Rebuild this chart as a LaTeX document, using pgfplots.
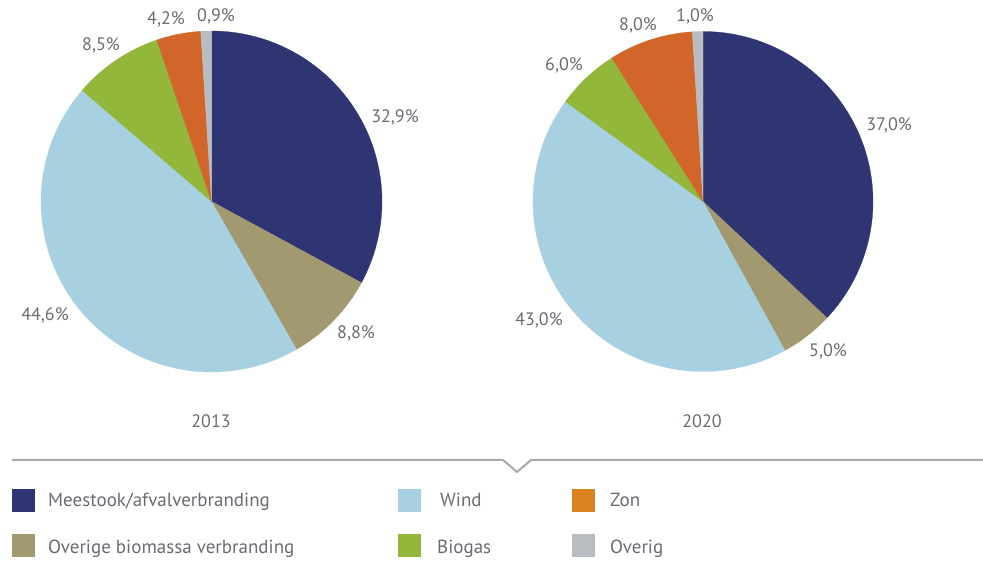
\documentclass[border=0pt]{standalone}
\usepackage{pgfplots}
\pgfplotsset{compat=1.18}
\usepackage{fontspec}
\setmainfont{PT Sans}
\definecolor{cNavy}{HTML}{2F3473}
\definecolor{cTan}{HTML}{A39970}
\definecolor{cWind}{HTML}{A7D0E1}
\definecolor{cGreen}{HTML}{93B73B}
\definecolor{cOrange}{HTML}{D2662A}
\definecolor{cOrangeL}{HTML}{D9821F}
\definecolor{cGray}{HTML}{B9BDC2}
\definecolor{cText}{HTML}{686C73}
\definecolor{cLine}{HTML}{A7AAAD}

\newcommand{\onewedge}[6]{%
  \edef\doit{\noexpand\addplot[fill=#6, draw=#6, line width=0.3pt, domain=#4:#5, samples=120, variable=\noexpand\t] ({#1+#3*sin(\noexpand\t)}, {#2+#3*cos(\noexpand\t)}) -- (axis cs:#1,#2) -- cycle;}%
  \doit}
% #1 cx, #2 cy, #3 radius, #4..#9 percentages
\newcommand{\pieplot}[9]{%
  \pgfmathsetmacro\sA{0}%
  \pgfmathsetmacro\sB{\sA+3.6*#4}%
  \pgfmathsetmacro\sC{\sB+3.6*#5}%
  \pgfmathsetmacro\sD{\sC+3.6*#6}%
  \pgfmathsetmacro\sE{\sD+3.6*#7}%
  \pgfmathsetmacro\sF{\sE+3.6*#8}%
  \onewedge{#1}{#2}{#3}{\sA}{\sB}{cNavy}%
  \onewedge{#1}{#2}{#3}{\sB}{\sC}{cTan}%
  \onewedge{#1}{#2}{#3}{\sC}{\sD}{cWind}%
  \onewedge{#1}{#2}{#3}{\sD}{\sE}{cGreen}%
  \onewedge{#1}{#2}{#3}{\sE}{\sF}{cOrange}%
  \onewedge{#1}{#2}{#3}{\sF}{360}{cGray}%
}

\begin{document}
\begin{tikzpicture}
\begin{axis}[
  hide axis, x=1pt, y=1pt,
  xmin=0, xmax=983, ymin=0, ymax=560,
  clip=false, at={(0,0)}, anchor=origin,
]
% 2013: Meestook, Overige biomassa, Wind, Biogas, Zon, Overig
\pieplot{211.5}{358.5}{170.5}{32.9}{8.8}{44.6}{8.5}{4.2}{0.9}
% 2020
\pieplot{703}{358.5}{170}{37.0}{5.0}{43.0}{6.0}{8.0}{1.0}

\begin{scope}[every node/.style={text=cText, font=\fontsize{18}{21}\selectfont, anchor=base, inner sep=0pt}]
\node at (axis cs:395,437) {32,9\%};
\node at (axis cs:356,221) {8,8\%};
\node at (axis cs:45,239) {44,6\%};
\node at (axis cs:101,509) {8,5\%};
\node at (axis cs:166,535) {4,2\%};
\node at (axis cs:216,538) {0,9\%};
\node at (axis cs:889,429) {37,0\%};
\node at (axis cs:828,203) {5,0\%};
\node at (axis cs:539,234) {43,0\%};
\node at (axis cs:564,489) {6,0\%};
\node at (axis cs:638,529) {8,0\%};
\node at (axis cs:695,538) {1,0\%};
\node at (axis cs:211,132) {2013};
\node at (axis cs:702,132) {2020};
\end{scope}

\draw[cLine, line width=2pt] (axis cs:12,100) -- (axis cs:503,100) -- (axis cs:517,88) -- (axis cs:531,100) -- (axis cs:983,100);

\begin{scope}[every node/.style={text=cText, font=\fontsize{19}{22}\selectfont, anchor=base west, inner sep=0pt}]
\fill[cNavy] (axis cs:12,48) rectangle (axis cs:35,71);
\node at (axis cs:48,53) {Meestook/afvalverbranding};
\fill[cWind] (axis cs:398,48) rectangle (axis cs:421,71);
\node at (axis cs:440,53) {Wind};
\fill[cOrangeL] (axis cs:572,48) rectangle (axis cs:595,71);
\node at (axis cs:610,53) {Zon};
\fill[cTan] (axis cs:12,3) rectangle (axis cs:35,26);
\node at (axis cs:48,7) {Overige biomassa verbranding};
\fill[cGreen] (axis cs:398,3) rectangle (axis cs:421,26);
\node at (axis cs:437,7) {Biogas};
\fill[cGray] (axis cs:572,3) rectangle (axis cs:595,26);
\node at (axis cs:610,7) {Overig};
\end{scope}
\end{axis}
\pgfresetboundingbox
\useasboundingbox (0,0) rectangle (983pt,560pt);
\end{tikzpicture}
\end{document}
